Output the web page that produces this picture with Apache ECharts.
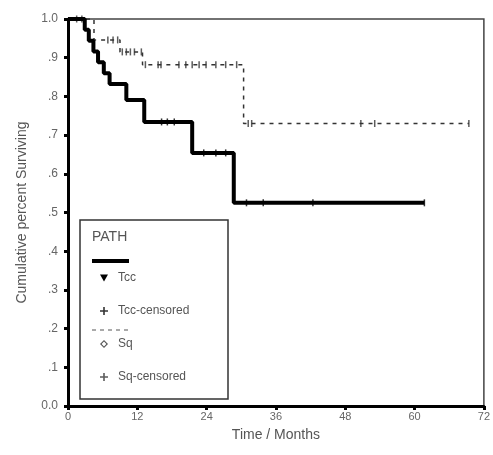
<!DOCTYPE html>
<html>
<head>
<meta charset="utf-8">
<script src="https://cdn.jsdelivr.net/npm/echarts@6/dist/echarts.min.js"></script>
<style>
  html, body { margin: 0; padding: 0; background: #fff; }
  #chart { width: 493px; height: 455px; }
</style>
</head>
<body>
<div id="chart"></div>
<script>
// Kaplan-Meier steps (time in months, survival after the event)
const tccTimes = [0, 2.9, 3.6, 4.4, 5.2, 6.2, 7.2, 10.1, 13.2, 21.5, 28.7, 61.7]
const tccSurv  = [1, 0.972, 0.944, 0.916, 0.888, 0.860, 0.832, 0.791, 0.734, 0.654, 0.525, 0.525]
const tccCensored = [16.2, 17.2, 18.4, 23.5, 25.6, 27.3, 30.9, 33.8, 42.4, 61.7]

const sqTimes = [0, 4.5, 9.0, 12.9, 30.4, 69.4]
const sqSurv  = [1, 0.946, 0.915, 0.882, 0.73, 0.73]
const sqCensored = [1.5, 2.4, 6.9, 7.8, 8.6, 9.4, 10.1, 10.8, 11.5, 12.7,
  13.4, 15.6, 16.1, 19.2, 20.4, 21.5, 22.7, 23.9, 25.6, 27.3, 29.2,
  31.2, 31.8, 50.7, 53.1, 69.4]

const xTicks = [0, 12, 24, 36, 48, 60, 72]

// survival value of a step curve at time t
function survAt(times, surv, t) {
  let s = surv[0]
  for (let i = 0; i < times.length; i++) {
    if (times[i] <= t) s = surv[i]
  }
  return s
}

const font = 'Liberation Sans, Arial, sans-serif'
const plus = 'path://M4,0 H6 V4 H10 V6 H6 V10 H4 V6 H0 V4 H4 Z'
const chart = echarts.init(document.getElementById('chart'))

const option = {
  animation: false,
  backgroundColor: '#fff',
  grid: {
    left: 68, right: 6, top: 19, bottom: 49,
    show: true, borderColor: '#444', borderWidth: 1.5
  },
  xAxis: {
    type: 'value', min: 0, max: 72, interval: 12,
    name: 'Time / Months', nameLocation: 'middle', nameGap: 22,
    nameTextStyle: { fontFamily: font, fontSize: 14, color: '#555' },
    axisLine: { lineStyle: { color: '#000', width: 3 } },
    axisTick: { length: 4, lineStyle: { color: '#000', width: 3 } },
    axisLabel: { fontFamily: font, fontSize: 11, color: '#666', margin: 5,
      formatter: v => xTicks.includes(v) ? String(v) : '' },
    splitLine: { show: false }
  },
  yAxis: {
    type: 'value', min: 0, max: 1, interval: 0.1,
    name: 'Cumulative percent Surviving', nameLocation: 'middle', nameGap: 39,
    nameTextStyle: { fontFamily: font, fontSize: 14, color: '#555' },
    axisLine: { lineStyle: { color: '#000', width: 3 } },
    axisTick: { length: 4, lineStyle: { color: '#000', width: 3 } },
    axisLabel: { fontFamily: font, fontSize: 12, color: '#666', margin: 10,
      formatter: v => {
        if (v === 0) return '0.0'
        if (v === 1) return '1.0'
        return '.' + Math.round(v * 10)
      } },
    splitLine: { show: false }
  },
  legend: {
    orient: 'vertical', left: 95, top: 267, itemGap: 21,
    itemWidth: 8, itemHeight: 8,
    selectedMode: false,
    textStyle: { fontFamily: font, fontSize: 12, color: '#555', padding: [0, 0, 0, 5] },
    data: [
      { name: 'Tcc', icon: 'path://M0,0 L10,0 L5,9 Z' },
      { name: 'Tcc-censored', icon: plus },
      { name: 'Sq', icon: 'path://M5,0 L10,5 L5,10 L0,5 Z M5,2 L2,5 L5,8 L8,5 Z' },
      { name: 'Sq-censored', icon: plus }
    ]
  },
  graphic: [
    { type: 'rect', z: 3, shape: { x: 80, y: 220, width: 148, height: 179 },
      style: { fill: '#fff', stroke: '#333', lineWidth: 1.5 } },
    { type: 'text', z: 4, x: 92, y: 230,
      style: { text: 'PATH', font: '14px ' + font, fill: '#555' } },
    { type: 'line', z: 4, shape: { x1: 92, y1: 261, x2: 129, y2: 261 },
      style: { stroke: '#000', lineWidth: 4 } },
    { type: 'line', z: 4, shape: { x1: 92, y1: 330, x2: 129, y2: 330 },
      style: { stroke: '#555', lineWidth: 1, lineDash: [4, 4] } }
  ],
  series: [
    {
      name: 'Tcc', type: 'line', step: 'end', showSymbol: false,
      color: '#000',
      lineStyle: { color: '#000', width: 4 },
      data: tccTimes.map((t, i) => [t, tccSurv[i]]),
      z: 3
    },
    {
      name: 'Tcc-censored', type: 'scatter', symbol: 'rect', symbolSize: [1.5, 7],
      color: '#000',
      itemStyle: { color: '#000' },
      data: tccCensored.map(t => [t, survAt(tccTimes, tccSurv, t)]),
      z: 4
    },
    {
      name: 'Sq', type: 'line', step: 'end', showSymbol: false,
      color: '#555',
      lineStyle: { color: '#333', width: 1.5, type: [4, 5] },
      data: sqTimes.map((t, i) => [t, sqSurv[i]]),
      z: 2
    },
    {
      name: 'Sq-censored', type: 'scatter', symbol: 'rect', symbolSize: [1.5, 7],
      color: '#444',
      itemStyle: { color: '#333' },
      data: sqCensored.map(t => [t, survAt(sqTimes, sqSurv, t)]),
      z: 2
    }
  ]
}

chart.setOption(option)
</script>
</body>
</html>
